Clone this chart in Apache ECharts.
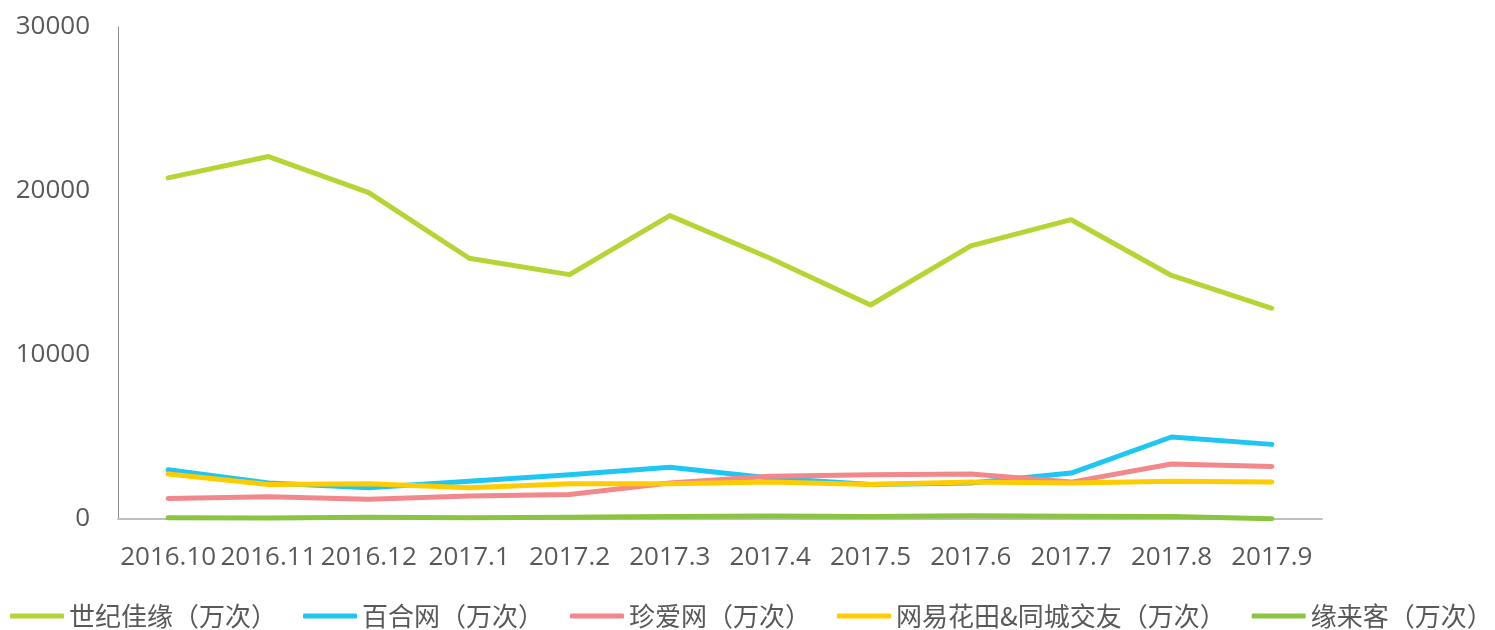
<!DOCTYPE html>
<html>
<head>
<meta charset="utf-8">
<script src="https://cdn.jsdelivr.net/npm/echarts@6/dist/echarts.min.js"></script>
<style>
  html, body { margin: 0; padding: 0; background: #fff; }
  #chart { width: 1495px; height: 630px; }
</style>
</head>
<body>
<div id="chart"></div>
<script>
const months = ["2016.10", "2016.11", "2016.12", "2017.1", "2017.2", "2017.3", "2017.4", "2017.5", "2017.6", "2017.7", "2017.8", "2017.9"];
const jiayuan = [20800, 22100, 19900, 15900, 14900, 18500, 15900, 13050, 16650, 18250, 14850, 12850];
const baihe = [3000, 2200, 1900, 2300, 2700, 3150, 2500, 2100, 2200, 2800, 5000, 4550];
const zhenai = [1250, 1350, 1200, 1400, 1500, 2200, 2600, 2700, 2750, 2250, 3350, 3200];
const huatian = [2750, 2100, 2150, 1900, 2150, 2150, 2250, 2100, 2250, 2200, 2300, 2250];
const yuanlaike = [80, 60, 100, 80, 100, 150, 180, 150, 200, 170, 150, 20];

const colors = ["#B5D534", "#1FC6F2", "#F2888B", "#FFCC00", "#8BC441"];
const names = ["世纪佳缘（万次）", "百合网（万次）", "珍爱网（万次）", "网易花田&同城交友（万次）", "缘来客（万次）"];
const values = [jiayuan, baihe, zhenai, huatian, yuanlaike];

const chart = echarts.init(document.getElementById("chart"));

chart.setOption({
  color: colors,
  animation: false,
  textStyle: { fontFamily: "'Open Sans', 'Noto Sans CJK SC', sans-serif" },
  grid: { left: 118, right: 173, top: 27, bottom: 111 },
  legend: {
    bottom: 0,
    left: 10,
    padding: 0,
    icon: "roundRect",
    itemWidth: 54,
    itemHeight: 5,
    itemGap: 26,
    textStyle: { color: "#595959", fontSize: 26, lineHeight: 28, fontFamily: "'Noto Sans CJK SC', sans-serif" },
    data: names
  },
  xAxis: {
    type: "category",
    data: months,
    axisLine: { lineStyle: { color: "#bfbfbf", width: 2 } },
    axisTick: { show: false },
    axisLabel: { interval: 0, color: "#595959", fontSize: 26, margin: 26 }
  },
  yAxis: {
    type: "value",
    min: 0,
    max: 30000,
    interval: 10000,
    axisLine: { show: true, lineStyle: { color: "#8c8c8c", width: 1 } },
    axisTick: { show: false },
    splitLine: { show: false },
    axisLabel: { color: "#595959", fontSize: 26, margin: 28, formatter: v => String(v) }
  },
  series: names.map((name, i) => ({
    name: name,
    type: "line",
    data: values[i],
    symbol: "none",
    lineStyle: { width: 5, cap: "round", join: "round" }
  }))
});
</script>
</body>
</html>
